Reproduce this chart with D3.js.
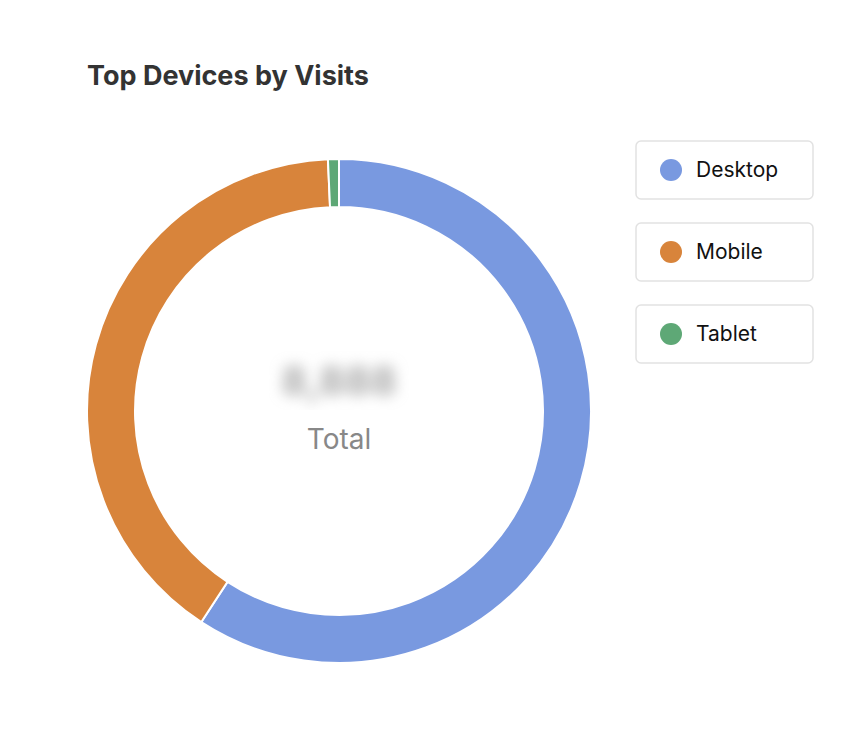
<!DOCTYPE html>
<html><head><meta charset="utf-8">
<script src="https://cdn.jsdelivr.net/npm/d3@7/dist/d3.min.js"></script>
<style>body{margin:0;background:#fff;font-family:Inter,"Noto Sans",sans-serif}</style>
</head><body>
<svg id="chart" width="866" height="750"></svg>
<script>
var categories = ["Desktop", "Mobile", "Tablet"];
var shares = [59.2, 40.1, 0.7];
var colors = ["#7999e0", "#d8843b", "#5ea876"];

var svg = d3.select("#chart");

svg.append("text")
  .attr("x", 87).attr("y", 85)
  .attr("font-size", 27).attr("font-weight", 700)
  .attr("fill", "#333")
  .text("Top Devices by Visits");

var cx = 339, cy = 411, outer = 252, inner = 204;

var pie = d3.pie().sort(null).value(function (d) { return d; });
var arc = d3.arc().innerRadius(inner).outerRadius(outer);

var g = svg.append("g").attr("transform", "translate(" + cx + "," + cy + ")");
g.selectAll("path")
  .data(pie(shares))
  .enter().append("path")
  .attr("d", arc)
  .attr("fill", function (d, i) { return colors[i]; })
  .attr("stroke", "#fff")
  .attr("stroke-width", 2);

// blurred total value
var defs = svg.append("defs");
defs.append("filter").attr("id", "blur")
  .append("feGaussianBlur").attr("stdDeviation", 7);
g.append("text")
  .attr("y", -16).attr("text-anchor", "middle")
  .attr("font-size", 40).attr("font-weight", 700)
  .attr("fill", "#aaa").attr("filter", "url(#blur)")
  .text("8,888");

g.append("text")
  .attr("y", 38).attr("text-anchor", "middle")
  .attr("font-size", 28).attr("fill", "#888")
  .text("Total");

// legend
var legend = svg.append("g").selectAll("g")
  .data(categories)
  .enter().append("g")
  .attr("transform", function (d, i) { return "translate(636," + (141 + i * 82) + ")"; });

legend.append("rect")
  .attr("width", 177).attr("height", 58).attr("rx", 5)
  .attr("fill", "#fff").attr("stroke", "#e2e2e2").attr("stroke-width", 1.5);
legend.append("circle")
  .attr("cx", 35).attr("cy", 29).attr("r", 11)
  .attr("fill", function (d, i) { return colors[i]; });
legend.append("text")
  .attr("x", 60).attr("y", 36)
  .attr("font-size", 21).attr("fill", "#111")
  .text(function (d) { return d; });
</script>
</body></html>
